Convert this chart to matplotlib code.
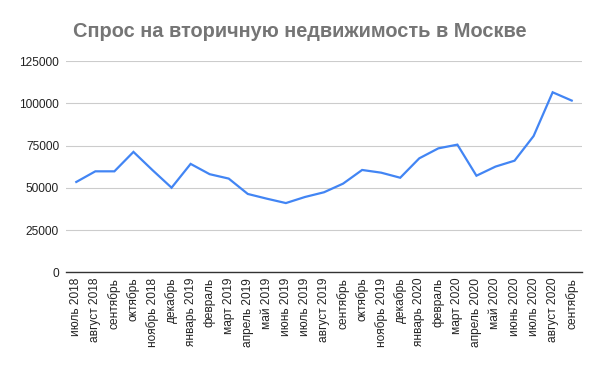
import matplotlib
matplotlib.use('Agg')
import matplotlib.pyplot as plt

plt.rcParams['font.family'] = ['Liberation Sans', 'DejaVu Sans']

# месяцы (подписи оси X)
months = [
    'июль 2018', 'август 2018', 'сентябрь', 'октябрь', 'ноябрь 2018',
    'декабрь', 'январь 2019', 'февраль', 'март 2019', 'апрель 2019',
    'май 2019', 'июнь 2019', 'июль 2019', 'август 2019', 'сентябрь',
    'октябрь', 'ноябрь 2019', 'декабрь', 'январь 2020', 'февраль',
    'март 2020', 'апрель 2020', 'май 2020', 'июнь 2020', 'июль 2020',
    'август 2020', 'сентябрь',
]
# спрос (оценено по графику)
demand = [
    53500, 59800, 59800, 71300, 60500, 50100, 64200, 58100, 55500, 46400,
    43600, 41000, 44600, 47400, 52500, 60600, 59000, 56000, 67500, 73400,
    75600, 57200, 62600, 66100, 80700, 106600, 101700,
]
y_ticks = [0, 25000, 50000, 75000, 100000, 125000]

fig = plt.figure(figsize=(6.0, 3.71), dpi=100)
ax = fig.add_axes([0.11, 0.266, 0.86, 0.569])

x = list(range(len(months)))
ax.plot(x, demand, color='#4285F4', linewidth=1.6, solid_joinstyle='miter', zorder=3)

ax.set_xlim(-0.54, len(months) - 1 + 0.54)
ax.set_ylim(0, 125000)
ax.set_yticks(y_ticks)
ax.set_yticklabels([str(v) for v in y_ticks], fontsize=8.6, color='#222222')
ax.set_xticks(x)
ax.set_xticklabels(months, rotation=90, fontsize=8.6, color='#222222')
ax.tick_params(axis='y', length=0, pad=5)
ax.tick_params(axis='x', length=0, pad=4)

ax.grid(axis='y', color='#cccccc', linewidth=0.8, zorder=0)
for s in ['top', 'right', 'left']:
    ax.spines[s].set_visible(False)
ax.spines['bottom'].set_color('#333333')
ax.spines['bottom'].set_linewidth(1.0)
ax.spines['bottom'].set_zorder(4)

fig.text(0.5, 0.915, 'Спрос на вторичную недвижимость в Москве',
         ha='center', va='center', fontsize=14.4, fontweight='bold', color='#757575')

fig.savefig('out.png', dpi=100, facecolor='white')
